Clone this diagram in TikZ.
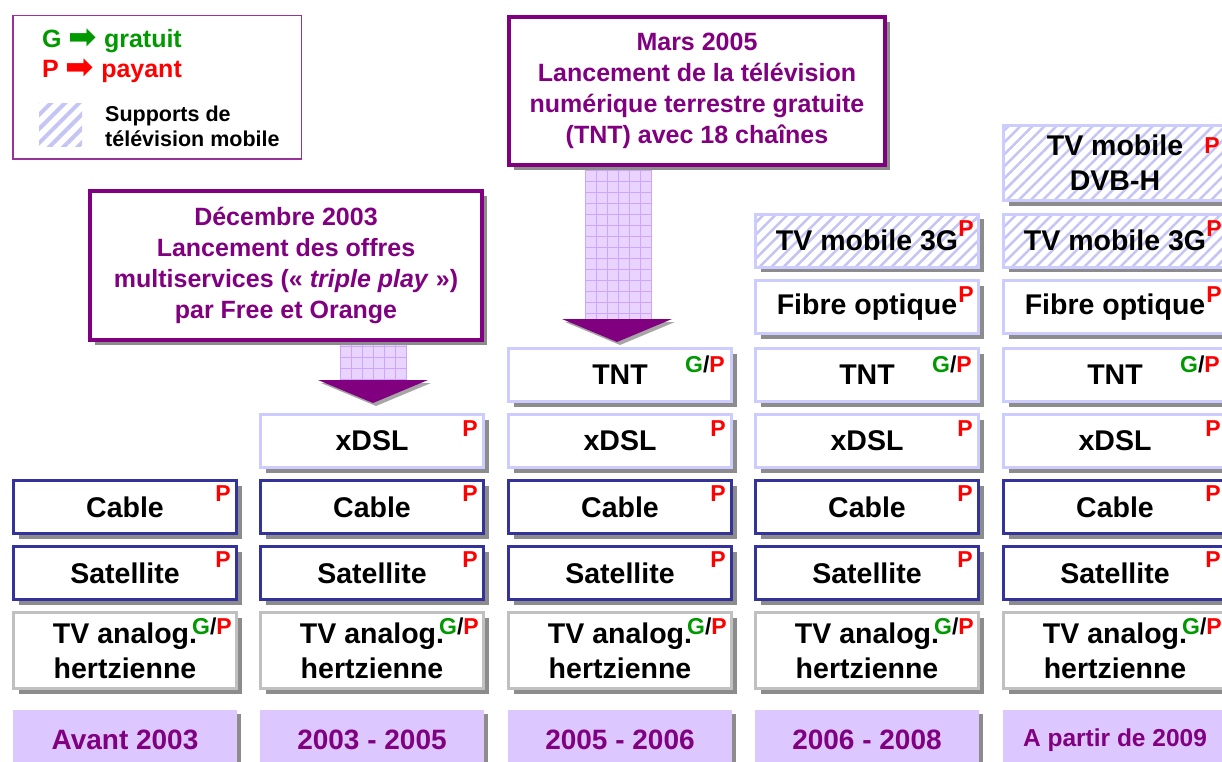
\documentclass[tikz,border=0pt]{standalone}
\usepackage{fontspec}
\setmainfont{Liberation Sans}
\newfontfamily\symfont{DejaVu Sans}
\usetikzlibrary{shadows,patterns.meta}
\definecolor{vio}{RGB}{128,0,128}
\definecolor{lav}{RGB}{204,204,255}
\definecolor{hatch}{RGB}{196,196,245}
\definecolor{navy2}{RGB}{51,51,153}
\definecolor{lgray}{RGB}{192,192,192}
\definecolor{yearfill}{RGB}{221,199,255}
\definecolor{shaftfill}{RGB}{232,212,255}
\definecolor{shaftline}{RGB}{205,165,255}
\definecolor{redP}{RGB}{255,0,0}
\definecolor{greenG}{RGB}{0,153,0}
\definecolor{legborder}{RGB}{153,51,153}
\tikzset{
  shd/.style={drop shadow={shadow xshift=5pt, shadow yshift=-5pt, fill=black!45, opacity=1}},
  box/.style={shd, draw, line width=3pt, fill=white, inner sep=0pt, align=center,
    minimum width=223pt, font=\bfseries\fontsize{28.5}{35}\selectfont},
  bluebox/.style={box, draw=navy2, minimum height=53pt},
  lavbox/.style={box, draw=lav, minimum height=53pt},
  graybox/.style={box, draw=lgray, minimum height=76pt},
  mobbox/.style={box, draw=lav, preaction={fill=white},
    pattern={Lines[angle=45,distance=8.5pt,line width=2.5pt]}, pattern color=hatch},
  yearbox/.style={drop shadow={shadow xshift=4pt, shadow yshift=-4pt, fill=black!45, opacity=1},
    fill=yearfill, inner sep=0pt, minimum width=224pt, minimum height=60pt, text=vio,
    font=\bfseries\fontsize{28}{30}\selectfont},
  mk/.style={inner sep=0pt, anchor=north east, text=redP, font=\bfseries\fontsize{23}{23}\selectfont},
  callout/.style={shd, draw=vio, line width=4pt, fill=white, text=vio, align=center, inner sep=0pt,
    font=\bfseries\fontsize{25}{31}\selectfont},
  shaft/.style={fill=shaftfill},
  gridline/.style={draw=shaftline, line width=0.8pt},
  head/.style={fill=vio, drop shadow={shadow xshift=3pt, shadow yshift=-3pt, fill=black!35, opacity=1}},
  legline/.style={anchor=west, inner sep=0pt, font=\bfseries\fontsize{25}{25}\selectfont}
}
\newcommand{\GP}{{\color{greenG}G}{\color{black}/}P}
\newcommand{\legarrow}{\smash{\raisebox{-1pt}{\symfont\fontsize{34}{34}\selectfont ➡}}}
\begin{document}
\begin{tikzpicture}[x=1pt,y=-1pt]
\useasboundingbox (0,0) rectangle (1222,762);
\clip (0,0) rectangle (1222,762);
\fill[white] (0,0) rectangle (1222,762);

% legend
\node[draw=legborder, line width=1.5pt, minimum width=288.5pt, minimum height=143.5pt, inner sep=0pt] (legend) at (157,87.5) {};
\node[legline, text=greenG] (legG) at (42,41) {G \legarrow\ gratuit};
\node[legline, text=redP] (legP) at (42,71) {P \legarrow\ payant};
\path[pattern={Lines[angle=45,distance=10pt,line width=4pt]}, pattern color=hatch] (39,104) rectangle (82,147);
\node[anchor=west, inner sep=0pt, align=left, font=\bfseries\fontsize{21.5}{25}\selectfont] (legS) at (105,126.5) {Supports de\\télévision mobile};

% arrow shafts
\fill[shaft] (340,342) rectangle (407,381);
\foreach \gx in {340,351,...,407} {\draw[gridline] (\gx,342) -- (\gx,381);}
\foreach \gy in {346,357,...,381} {\draw[gridline] (340,\gy) -- (407,\gy);}
\fill[shaft] (585,166) rectangle (652,320);
\foreach \gx in {585,596,...,652} {\draw[gridline] (\gx,166) -- (\gx,320);}
\foreach \gy in {170,181,...,320} {\draw[gridline] (585,\gy) -- (652,\gy);}
\path[head] (318,380) -- (428,380) -- (373,403) -- cycle;
\path[head] (562,319) -- (672,319) -- (617,342) -- cycle;

% callouts
\node[callout, minimum width=392pt, minimum height=149pt] (call1) at (286,265.5)
  {Décembre 2003\\Lancement des offres\\multiservices («~\textit{triple play}~»)\\par Free et Orange};
\node[callout, minimum width=376pt, minimum height=148pt] (call2) at (697,91)
  {Mars 2005\\Lancement de la télévision\\numérique terrestre gratuite\\(TNT) avec 18 chaînes};

% columns
\foreach \c/\x in {1/12,2/259,3/507,4/754,5/1002} {
  \node[bluebox] (cable\c) at (\x+113,507) {Cable};
  \node[mk] (cableP\c) at (\x+219,485) {P};
  \node[bluebox] (sat\c) at (\x+113,573) {Satellite};
  \node[mk] (satP\c) at (\x+219,551) {P};
  \node[graybox] (ana\c) at (\x+113,650.5) {TV analog.\\hertzienne};
  \node[mk] (anaP\c) at (\x+220,618) {\GP};
}
\foreach \c/\x in {2/259,3/507,4/754,5/1002} {
  \node[lavbox] (xdsl\c) at (\x+113,441) {xDSL};
  \node[mk] (xdslP\c) at (\x+219,420) {P};
}
\foreach \c/\x in {3/507,4/754,5/1002} {
  \node[lavbox] (tnt\c) at (\x+113,375) {TNT};
  \node[mk] (tntP\c) at (\x+218,356) {\GP};
}
\foreach \c/\x in {4/754,5/1002} {
  \node[lavbox] (fib\c) at (\x+113,307) {Fibre optique};
  \node[mk] (fibP\c) at (\x+220,286) {P};
  \node[mobbox, minimum height=53pt] (mob\c) at (\x+113,240.5) {TV mobile 3G};
  \node[mk] (mobP\c) at (\x+220,220) {P};
}
\node[mobbox, minimum height=75pt] (dvb5) at (1115,163) {TV mobile\\DVB-H};
\node[mk] (dvbP5) at (1220,137) {P};

% years
\node[yearbox] (y1) at (125,740) {Avant 2003};
\node[yearbox] (y2) at (372,740) {2003 - 2005};
\node[yearbox] (y3) at (620,740) {2005 - 2006};
\node[yearbox] (y4) at (867,740) {2006 - 2008};
\node[yearbox, font=\bfseries\fontsize{24.5}{26}\selectfont] (y5) at (1115,740) {A partir de 2009};
\end{tikzpicture}
\end{document}
